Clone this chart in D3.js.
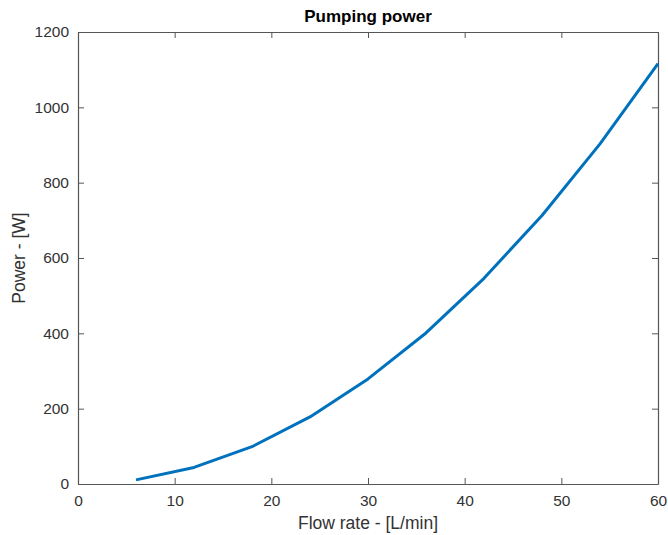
<!DOCTYPE html>
<html>
<head>
<meta charset="utf-8">
<script src="https://cdn.jsdelivr.net/npm/d3@7"></script>
<style>
  body { margin: 0; background: #fff; }
  svg { display: block; font-family: "Liberation Sans", Arial, sans-serif; }
</style>
</head>
<body>
<div id="chart"></div>
<script>
// flow rate [L/min] and pumping power [W]
const flowRate = [6, 12, 18, 24, 30, 36, 42, 48, 54, 60];
const power = [11, 44, 99, 178, 279, 401, 546, 713, 903, 1116];
const xTicks = [0, 10, 20, 30, 40, 50, 60];
const yTicks = [0, 200, 400, 600, 800, 1000, 1200];

const width = 668, height = 535;
const margin = {top: 32, right: 10, bottom: 51, left: 78};
const axisColor = "#555";

const svg = d3.select("#chart").append("svg")
    .attr("width", width)
    .attr("height", height);

const x = d3.scaleLinear().domain([0, 60]).range([margin.left, width - margin.right]);
const y = d3.scaleLinear().domain([0, 1200]).range([height - margin.bottom, margin.top]);

const styleAxis = g => {
  g.select(".domain").attr("stroke", axisColor).attr("stroke-width", 1.2);
  g.selectAll(".tick line").attr("stroke", axisColor);
  g.selectAll(".tick text").attr("fill", "#333").attr("font-size", 15.5);
};

// bottom / left with labels, ticks pointing inward
svg.append("g")
    .attr("transform", `translate(0,${y(0)})`)
    .call(d3.axisBottom(x).tickValues(xTicks).tickFormat(d3.format("d"))
      .tickSizeInner(-6).tickSizeOuter(0).tickPadding(11))
    .call(styleAxis);

svg.append("g")
    .attr("transform", `translate(${x(0)},0)`)
    .call(d3.axisLeft(y).tickValues(yTicks).tickFormat(d3.format("d"))
      .tickSizeInner(-6).tickSizeOuter(0).tickPadding(9))
    .call(styleAxis);

// mirrored top / right box edges
svg.append("g")
    .attr("transform", `translate(0,${y(1200)})`)
    .call(d3.axisTop(x).tickValues(xTicks).tickSizeInner(-6).tickSizeOuter(0).tickFormat(""))
    .call(styleAxis);

svg.append("g")
    .attr("transform", `translate(${x(60)},0)`)
    .call(d3.axisRight(y).tickValues(yTicks).tickSizeInner(-6).tickSizeOuter(0).tickFormat(""))
    .call(styleAxis);

const line = d3.line()
    .x((d, i) => x(flowRate[i]))
    .y(d => y(d));

svg.append("path")
    .datum(power)
    .attr("fill", "none")
    .attr("stroke", "#0072BD")
    .attr("stroke-width", 3)
    .attr("stroke-linejoin", "round")
    .attr("d", line);

svg.append("text")
    .attr("x", (x(0) + x(60)) / 2)
    .attr("y", 22)
    .attr("text-anchor", "middle")
    .attr("font-size", 17)
    .attr("font-weight", "bold")
    .attr("fill", "#000")
    .text("Pumping power");

svg.append("text")
    .attr("x", (x(0) + x(60)) / 2)
    .attr("y", 529)
    .attr("text-anchor", "middle")
    .attr("font-size", 17.5)
    .attr("fill", "#333")
    .text("Flow rate - [L/min]");

svg.append("text")
    .attr("transform", `translate(25,${(y(0) + y(1200)) / 2}) rotate(-90)`)
    .attr("text-anchor", "middle")
    .attr("font-size", 17.5)
    .attr("fill", "#333")
    .text("Power - [W]");
</script>
</body>
</html>
